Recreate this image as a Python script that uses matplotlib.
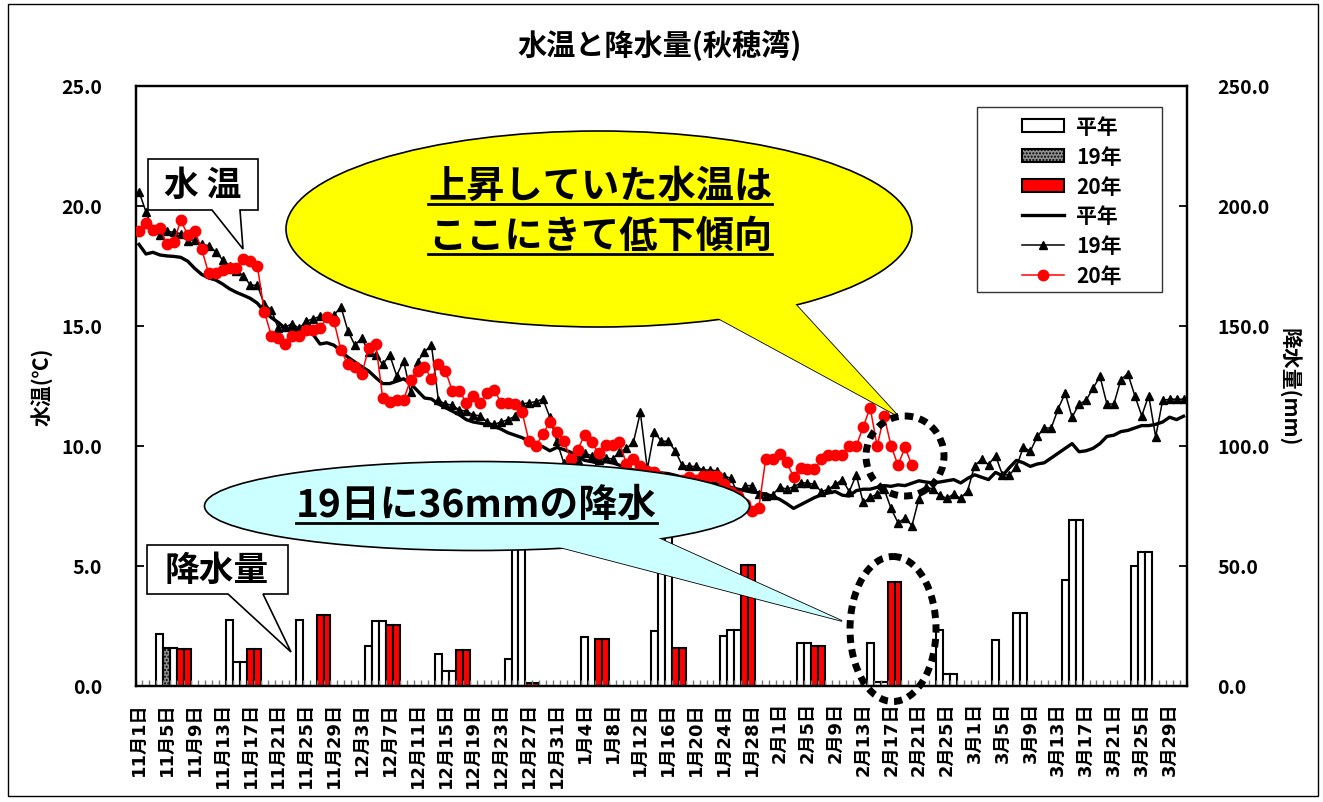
import numpy as np
import matplotlib.pyplot as plt
from matplotlib.patches import Patch, Ellipse, Polygon, Rectangle
from matplotlib.lines import Line2D

plt.rcParams['font.family'] = ['Noto Sans CJK JP', 'DejaVu Sans']
plt.rcParams['font.weight'] = 'bold'
plt.rcParams['axes.labelweight'] = 'bold'

W, H = 1323, 803

# daily categories 11/1 .. 3/31 (151 days), label every 4 days
n_days = 151
tick_labels = ['11月1日', '11月5日', '11月9日', '11月13日', '11月17日', '11月21日',
               '11月25日', '11月29日', '12月3日', '12月7日', '12月11日', '12月15日',
               '12月19日', '12月23日', '12月27日', '12月31日', '1月4日', '1月8日',
               '1月12日', '1月16日', '1月20日', '1月24日', '1月28日', '2月1日',
               '2月5日', '2月9日', '2月13日', '2月17日', '2月21日', '2月25日',
               '3月1日', '3月5日', '3月9日', '3月13日', '3月17日', '3月21日',
               '3月25日', '3月29日']

# water temperature (deg C)
temp_normal = [18.4, 18.0, 18.07, 17.96, 17.92, 17.9, 17.86, 17.7, 17.4, 17.15,
               17.0, 16.92, 16.75, 16.55, 16.4, 16.28, 16.15, 15.95, 15.6, 15.35,
               15.15, 14.9, 14.85, 14.78, 14.72, 14.65, 14.25, 14.3, 14.2, 13.95,
               13.7, 13.5, 13.3, 13.12, 12.85, 12.6, 12.6, 12.7, 12.8, 12.6,
               12.3, 12.0, 11.96, 11.75, 11.6, 11.45, 11.3, 11.1, 11.0, 10.95,
               10.9, 10.82, 10.7, 10.55, 10.45, 10.35, 10.2, 10.05, 9.97, 9.8,
               9.94, 9.85, 9.74, 9.55, 9.4, 9.35, 9.28, 9.35, 9.3, 9.2,
               9.1, 9.0, 8.97, 8.95, 8.9, 8.88, 8.85, 8.78, 8.7, 8.62,
               8.58, 8.52, 8.5, 8.42, 8.38, 8.28, 8.2, 8.14, 8.08, 8.05,
               8.0, 7.9, 7.78, 7.6, 7.4, 7.55, 7.7, 7.85, 7.97, 8.05,
               8.1, 7.95, 7.92, 8.14, 8.2, 8.2, 8.28, 8.35, 8.32, 8.38,
               8.35, 8.45, 8.55, 8.5, 8.46, 8.5, 8.55, 8.6, 8.46, 8.65,
               8.8, 8.7, 8.6, 8.9, 8.76, 9.1, 9.4, 9.3, 9.15, 9.25,
               9.3, 9.5, 9.7, 9.9, 10.1, 9.76, 9.8, 9.9, 10.1, 10.4,
               10.45, 10.6, 10.65, 10.75, 10.85, 10.85, 10.9, 11.0, 11.2, 11.1, 11.24]

temp_19 = [20.6, 19.76, 19.0, 18.8, 18.95, 18.9, 18.85, 18.55, 18.6, 18.4,
           18.35, 18.1, 17.76, 17.5, 17.3, 17.1, 16.7, 16.7, 15.9, 15.68,
           14.9, 14.95, 15.1, 14.9, 15.2, 15.3, 15.4, 15.4, 15.45, 15.8,
           14.8, 14.2, 14.5, 13.9, 13.8, 13.4, 13.8, 12.93, 13.55, 12.24,
           13.5, 13.93, 14.2, 11.9, 11.75, 11.7, 11.5, 11.45, 11.3, 11.26,
           11.0, 10.9, 11.0, 11.1, 11.24, 11.75, 11.8, 11.85, 11.96, 11.2,
           10.2, 9.3, 9.5, 9.4, 9.7, 9.6, 9.4, 9.5, 9.46, 9.74,
           9.9, 10.15, 11.4, 9.04, 10.6, 10.2, 10.2, 9.8, 9.2, 9.15,
           9.15, 9.0, 9.0, 8.97, 8.76, 8.65, 8.0, 8.35, 8.35, 8.0,
           7.9, 7.96, 8.3, 8.2, 8.3, 8.46, 8.46, 8.4, 8.1, 8.2,
           8.4, 8.6, 8.1, 8.8, 7.65, 7.86, 8.0, 8.2, 7.4, 6.8,
           7.0, 6.68, 7.8, 8.3, 8.2, 7.95, 7.82, 8.0, 7.82, 8.14,
           9.18, 9.45, 9.22, 9.6, 8.8, 8.8, 9.12, 9.96, 9.78, 10.4,
           10.75, 10.75, 11.55, 12.2, 11.2, 11.75, 11.9, 12.4, 12.9, 11.75,
           11.75, 12.76, 13.02, 12.1, 11.26, 12.1, 10.38, 11.9, 11.95, 11.95, 11.95]

temp_20 = [18.97, 19.28, 19.0, 19.1, 18.4, 18.5, 19.4, 18.8, 18.97, 18.2,
           17.2, 17.2, 17.35, 17.4, 17.4, 17.8, 17.7, 17.5, 15.6, 14.6,
           14.5, 14.25, 14.6, 14.6, 14.85, 14.85, 14.9, 15.36, 15.2, 14.0,
           13.4, 13.3, 13.0, 14.1, 14.25, 12.0, 11.85, 11.93, 11.93, 12.76,
           13.14, 13.3, 12.8, 13.4, 13.14, 12.3, 12.3, 11.8, 12.1, 11.8,
           12.2, 12.35, 11.8, 11.8, 11.75, 11.43, 10.2, 10.0, 10.5, 11.0,
           10.6, 10.2, 9.46, 9.85, 10.46, 10.15, 9.7, 10.04, 10.04, 10.15,
           9.25, 9.46, 9.18, 8.97, 8.9, 8.7, 8.6, 8.5, 8.6, 8.7,
           8.6, 8.74, 8.74, 8.74, 8.4, 8.1, 7.9, 7.6, 7.3, 7.4,
           9.46, 9.46, 9.67, 9.32, 8.72, 9.1, 9.04, 9.04, 9.46, 9.63,
           9.63, 9.63, 10.0, 10.0, 10.8, 11.6, 10.0, 11.26, 10.0, 9.2,
           9.94, 9.2]

# precipitation (mm): day index -> amount
rain_normal_days = [3, 5, 13, 14, 15, 23, 33, 34, 35, 43, 44, 45, 53, 54, 55, 64,
                    74, 75, 76, 84, 85, 86, 95, 96, 105, 106, 107, 115, 116, 117,
                    123, 126, 127, 133, 134, 135, 143, 144, 145]
rain_normal_mm = [21.5, 15.7, 27.5, 10.0, 10.0, 27.5, 16.7, 27.1, 27.1, 13.5, 6.2, 6.2,
                  11.4, 62.0, 62.0, 20.4, 22.9, 65.0, 65.0, 20.8, 23.3, 23.3, 18.0, 18.0,
                  18.0, 1.7, 1.7, 23.3, 5.1, 5.1, 19.2, 30.4, 30.4, 44.0, 69.2, 69.2,
                  50.0, 56.0, 56.0]
rain_19_days = [4]
rain_19_mm = [15.7]
rain_20_days = [6, 7, 16, 17, 26, 27, 36, 37, 46, 47, 56, 57, 66, 67, 77, 78,
                87, 88, 97, 98, 108, 109]
rain_20_mm = [15.3, 15.3, 15.3, 15.3, 29.6, 29.6, 25.4, 25.4, 15.0, 15.0, 1.3, 1.3,
              19.4, 19.4, 16.0, 16.0, 50.4, 50.4, 16.7, 16.7, 43.4, 43.4]

fig = plt.figure(figsize=(W / 100, H / 100), dpi=100)
ax = fig.add_axes([135.5 / W, 1 - 687 / H, (1187 - 135.5) / W, 600 / H])
ax2 = ax.twinx()

# bars on the secondary axis
ax2.bar(rain_normal_days, rain_normal_mm, width=1.0, color='white', edgecolor='black', linewidth=1.5)
ax2.bar(rain_19_days, rain_19_mm, width=1.0, color='#909090', edgecolor='black', linewidth=1.5,
        hatch='.....')
ax2.bar(rain_20_days, rain_20_mm, width=1.0, color='#ff0000', edgecolor='black', linewidth=1.5)
ax2.set_ylim(0, 250)
ax2.set_yticks(np.arange(0, 251, 50))
ax2.set_yticklabels(['%.1f' % v for v in np.arange(0, 251, 50)])

# temperature lines on top
ax.set_zorder(ax2.get_zorder() + 1)
ax.patch.set_visible(False)
days = np.arange(n_days)
ax.plot(days, temp_normal, color='black', lw=2.4, zorder=3)
ax.plot(days, temp_19, color='black', lw=1.1, marker='^', ms=6, zorder=4)
ax.plot(days[:len(temp_20)], temp_20, color='#ff0000', lw=1.1, marker='o', ms=7.5, zorder=5)
ax.set_ylim(0, 25)
ax.set_yticks(np.arange(0, 26, 5))
ax.set_yticklabels(['%.1f' % v for v in np.arange(0, 26, 5)])
ax.set_xlim(-0.5, n_days - 0.5)
ax.set_xticks(np.arange(0, n_days, 4))
ax.set_xticklabels(tick_labels, rotation=90, fontsize=13, va='top',
                   family=['DejaVu Sans', 'Noto Sans CJK JP'])
ax.set_xticks(np.arange(-0.5, n_days, 1), minor=True)
ax.tick_params(axis='x', which='major', length=0, pad=11)
ax.tick_params(axis='x', which='minor', direction='in', length=4, width=1, color='#777777')
ax.tick_params(axis='y', direction='in', length=6, width=1.3, labelsize=14, pad=24)
ax2.tick_params(axis='y', direction='in', length=6, width=1.3, labelsize=14, pad=22)
for a in (ax, ax2):
    for s in a.spines.values():
        s.set_linewidth(1.6)
        s.set_color('black')

ax.set_ylabel('水温(℃)', fontsize=15, labelpad=6)
ax2.set_ylabel('降水量(mm)', fontsize=15, rotation=270, labelpad=22)
fig.text(660 / W, 1 - 45 / H, '水温と降水量(秋穂湾)', ha='center', va='center', fontsize=21)

handles = [Patch(facecolor='white', edgecolor='black', lw=1.5),
           Patch(facecolor='#909090', edgecolor='black', lw=1.5, hatch='.....'),
           Patch(facecolor='#ff0000', edgecolor='black', lw=1.5),
           Line2D([], [], color='black', lw=2.4),
           Line2D([], [], color='black', lw=1.1, marker='^', ms=6),
           Line2D([], [], color='#ff0000', lw=1.1, marker='o', ms=7.5)]
labels = ['平年', '19年', '20年', '平年', '19年', '20年']
leg = fig.legend(handles, labels, loc='center', bbox_to_anchor=(1072 / W, 1 - 202 / H),
                 fontsize=15, frameon=False, handlelength=2.0, handleheight=0.6,
                 handletextpad=0.6, labelspacing=0.42, borderpad=0.2)

# annotation layer in pixel coordinates
ov = fig.add_axes([0, 0, 1, 1], zorder=10)
ov.set_xlim(0, W)
ov.set_ylim(H, 0)
ov.axis('off')
ov.patch.set_alpha(0)

ov.add_patch(Rectangle((8, 5), 1310, 792, fill=False, lw=1.0, ec='black'))
ov.add_patch(Rectangle((977, 108), 185, 185, fill=False, lw=1.0, ec='#333333'))

# yellow speech bubble
yel_tail = [(655, 285), (765, 272), (898, 417)]
ov.add_patch(Polygon(yel_tail, closed=True, fc='#ffff00', ec='black', lw=1.2))
ov.add_patch(Ellipse((599, 230), 626, 196, fc='#ffff00', ec='black', lw=1.2))
ov.add_patch(Polygon(yel_tail, closed=True, fc='#ffff00', ec='none'))
t1 = ov.text(600, 186, '上昇していた水温は', ha='center', va='center', fontsize=27.5)
t2 = ov.text(600, 236, 'ここにきて低下傾向', ha='center', va='center', fontsize=27.5)

# cyan speech bubble
cy_tail = [(540, 543), (645, 533), (842, 622)]
ov.add_patch(Polygon(cy_tail, closed=True, fc='#ccffff', ec='black', lw=1.2))
ov.add_patch(Ellipse((477, 507), 545, 89, fc='#ccffff', ec='black', lw=1.2))
ov.add_patch(Polygon(cy_tail, closed=True, fc='#ccffff', ec='none'))
t3 = ov.text(476, 505, '19日に36mmの降水', ha='center', va='center', fontsize=28)

# small labelled boxes
ov.add_patch(Polygon([(148, 160), (258, 160), (258, 211), (240, 211), (243, 250),
                      (212, 211), (148, 211)], closed=True, fc='white', ec='black', lw=1.2))
ov.text(203, 185, '水 温', ha='center', va='center', fontsize=25)
ov.add_patch(Polygon([(147, 546), (288, 546), (288, 595), (263, 595), (291, 653),
                      (228, 595), (147, 595)], closed=True, fc='white', ec='black', lw=1.2))
ov.text(217, 570, '降水量', ha='center', va='center', fontsize=25)

# dotted circles
ov.add_patch(Ellipse((905, 457), 78, 80, fill=False, ec='black', lw=5, ls=(0, (1.2, 0.9))))
ov.add_patch(Ellipse((893, 630), 86, 145, fill=False, ec='black', lw=5, ls=(0, (1.2, 0.9))))

# underline the bubble texts
fig.canvas.draw()
for t in (t1, t2, t3):
    bb = t.get_window_extent()
    yy = H - bb.y0 - 1
    ov.plot([bb.x0, bb.x1], [yy, yy], color='black', lw=2)

fig.savefig('out.png', dpi=100)
